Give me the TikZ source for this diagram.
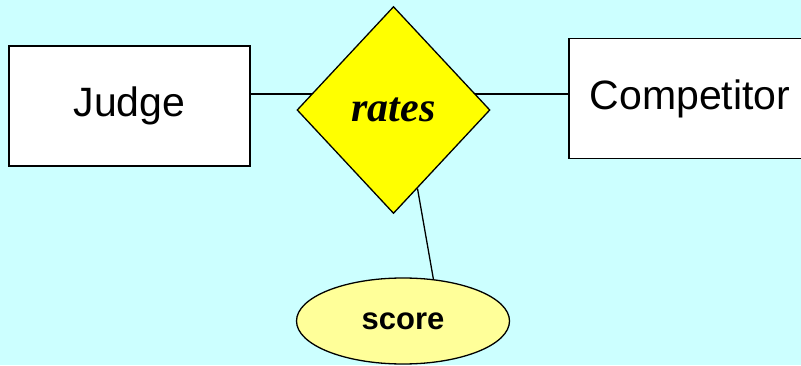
\documentclass[tikz,border=0pt]{standalone}
\usepackage{fontspec}
\setmainfont{Liberation Serif}
\setsansfont{Liberation Sans}
\usetikzlibrary{shapes.geometric}
\definecolor{bgcyan}{HTML}{CCFFFF}
\definecolor{relyellow}{HTML}{FFFF00}
\definecolor{attryellow}{HTML}{FFFF99}

\begin{document}
\begin{tikzpicture}[x=1pt,y=1pt,line join=miter]
    % styles
    \tikzstyle{entity}=[draw=black,line width=1.3pt,fill=white,rectangle,inner sep=0pt,
      minimum height=120pt,font=\sffamily\fontsize{41}{41}\selectfont]
    \tikzstyle{relation}=[draw=black,line width=1.3pt,fill=relyellow,diamond,inner sep=0pt,
      minimum width=193pt,minimum height=207pt,font=\bfseries\itshape\fontsize{42}{42}\selectfont]
    \tikzstyle{attribute}=[draw=black,line width=1.3pt,fill=attryellow,ellipse,inner sep=0pt,
      minimum width=213pt,minimum height=86pt,font=\sffamily\bfseries\fontsize{31}{31}\selectfont]
    \tikzstyle{link}=[draw=black,line width=1.3pt]

    % background
    \fill[bgcyan] (0,0) rectangle (801,365);
    \useasboundingbox (0,0) rectangle (801,365);

    % ----------------------------------------------------
    % entities
    % ----------------------------------------------------
    \node[entity,minimum width=241pt] (judge) at (129.5,259) {Judge};
    \node[entity,minimum width=242pt] (competitor) at (690,266.5) {Competitor};

    % line between the entities (goes under the diamond)
    \coordinate (linkrow) at (400,271);
    \draw[link] (judge.east |- linkrow) -- (competitor.west |- linkrow);

    % ----------------------------------------------------
    % relationship + attribute
    % ----------------------------------------------------
    \node[relation] (rates) at (393.5,255) {rates};
    \node[attribute] (score) at (403,44) {score};
    \draw[link] (score.54) -- (rates.-73);
\end{tikzpicture}
\end{document}
